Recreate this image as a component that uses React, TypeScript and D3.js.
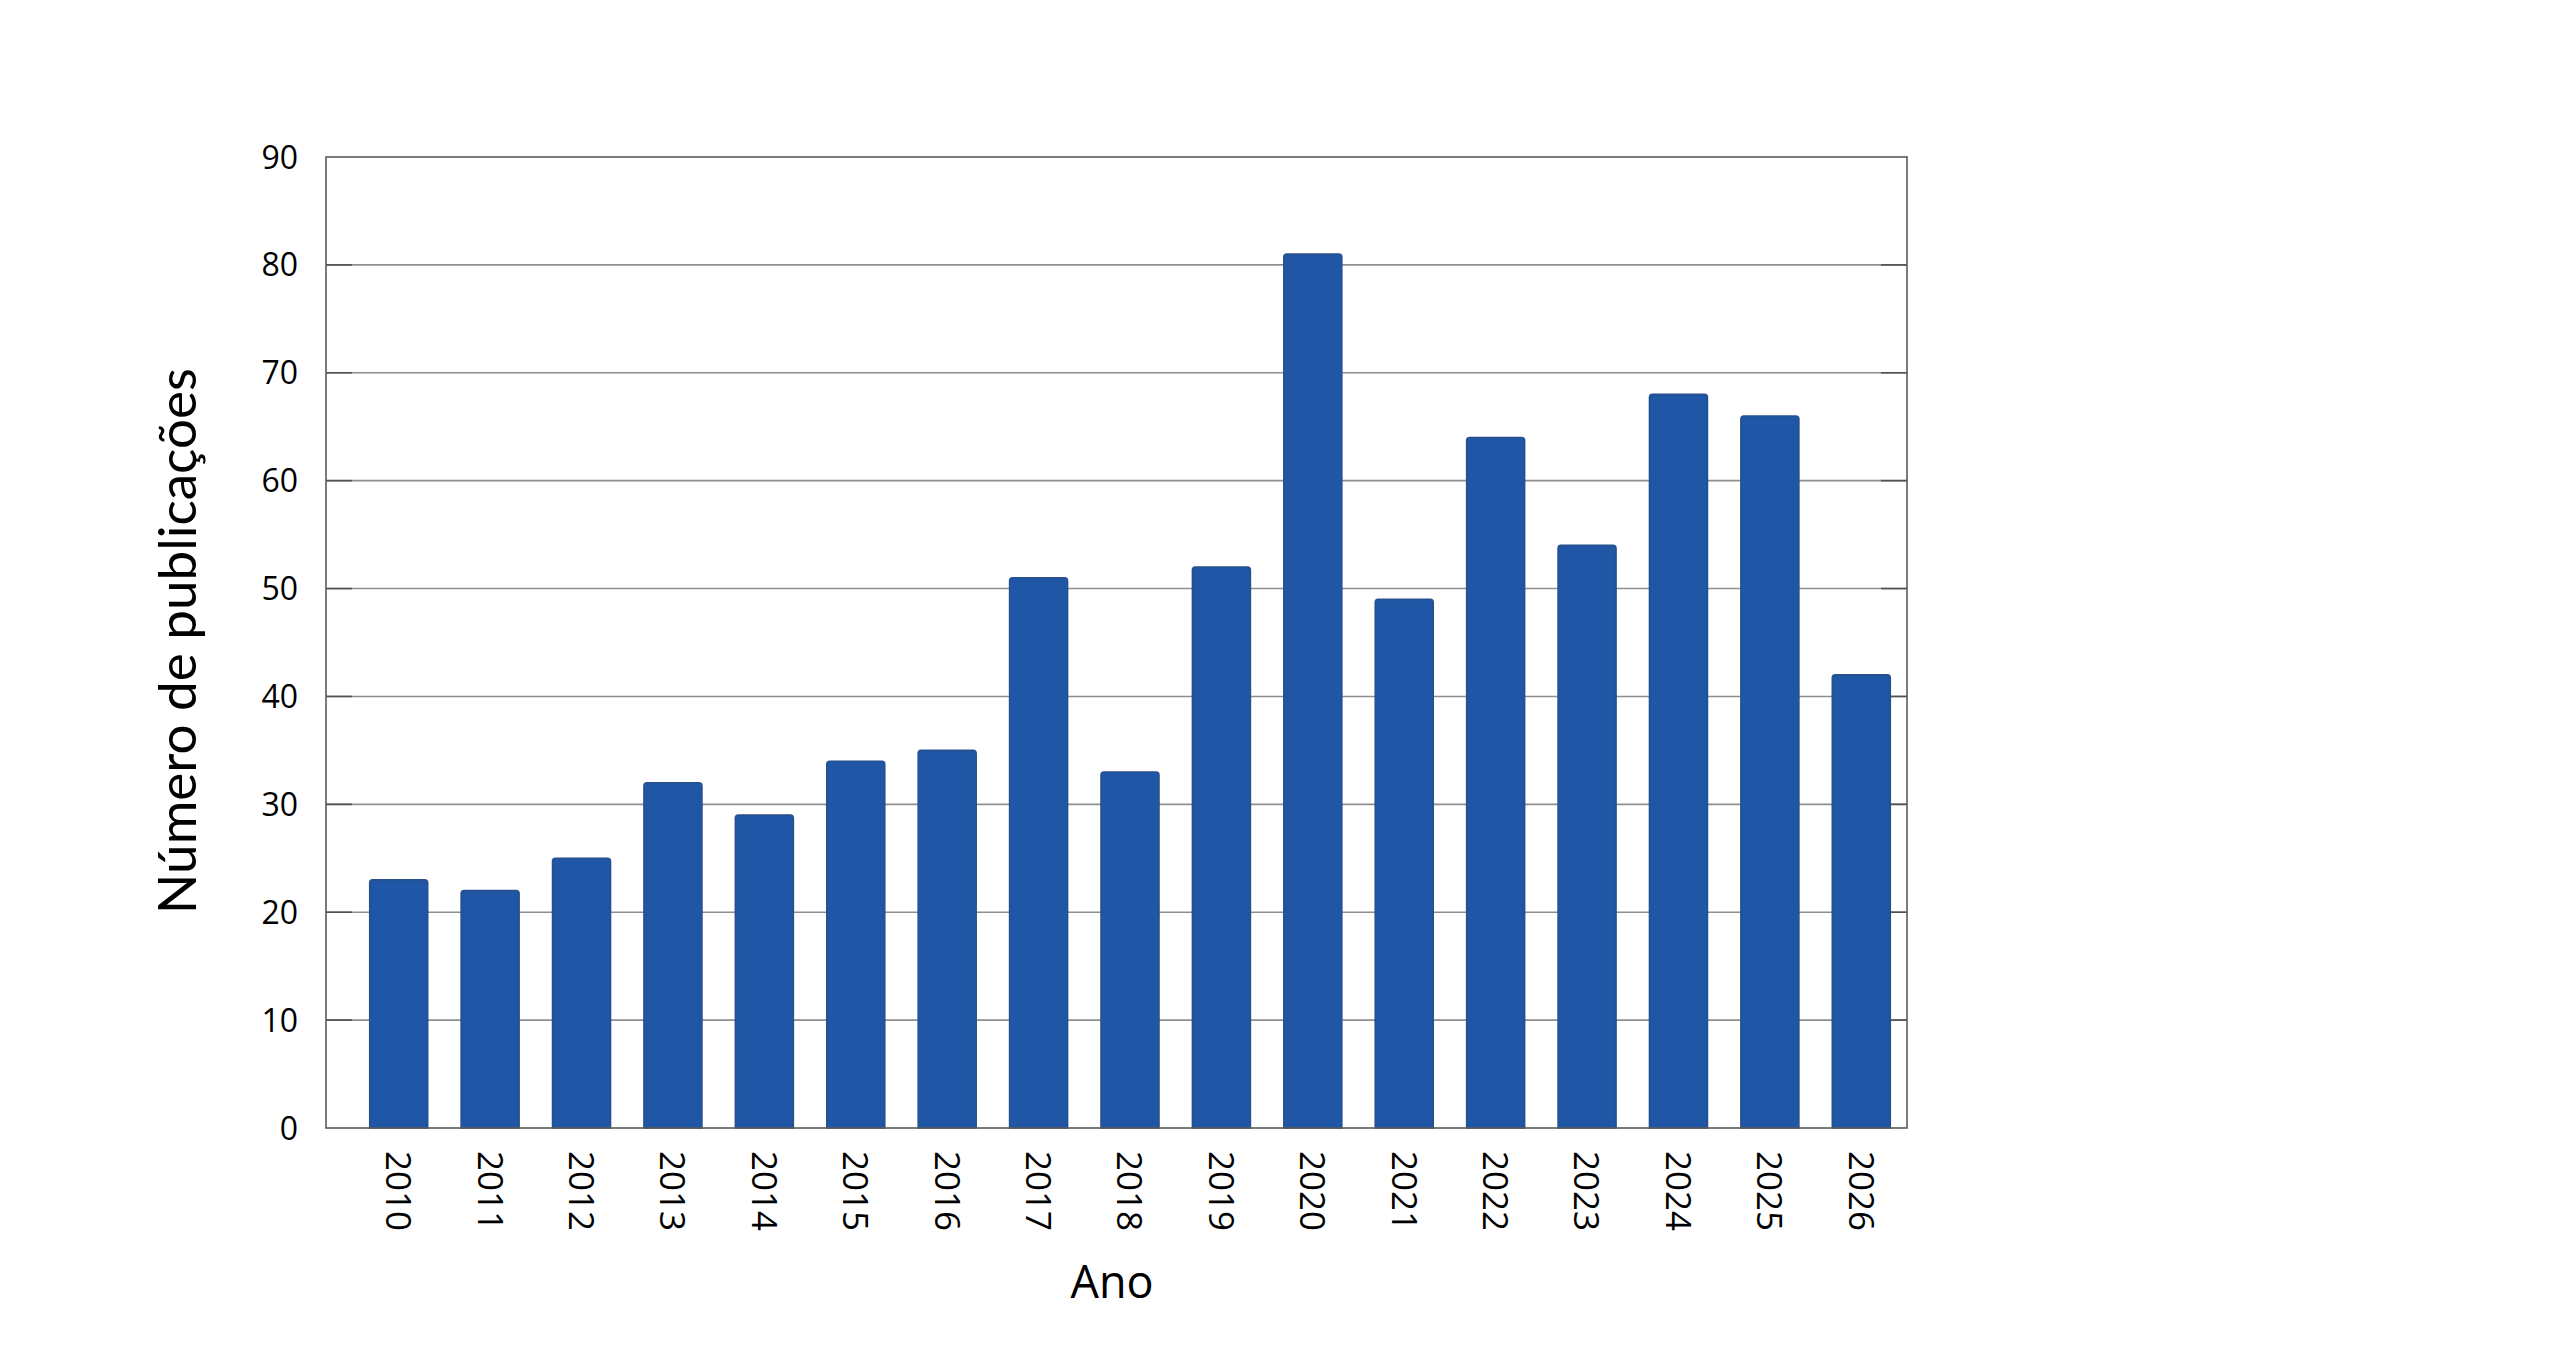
import React from "react";
import * as d3 from "d3";

const years = ["2010","2011","2012","2013","2014","2015","2016","2017","2018","2019","2020","2021","2022","2023","2024","2025","2026"];
const publications = [23, 22, 25, 32, 29, 34, 35, 51, 33, 52, 81, 49, 64, 54, 68, 66, 42];
const yTicks = [0, 10, 20, 30, 40, 50, 60, 70, 80, 90];
const yTitle = "Número de publicações";
const xTitle = "Ano";

const W = 2560;
const H = 1352;
const frameLeft = 326;
const frameRight = 1907;
const frameTop = 157;
const frameBottom = 1128;

export default function App() {
  const x = d3.scaleBand<string>().domain(years).range([353, frameRight]).paddingInner(0.366).paddingOuter(0.183);
  const y = d3.scaleLinear().domain([0, 90]).range([frameBottom, frameTop]);
  const bw = x.bandwidth();
  const barPath = (x0: number, y0: number, w: number, h: number) => {
    const r = 3;
    const p = d3.path();
    p.moveTo(x0, y0 + h);
    p.lineTo(x0, y0 + r);
    p.quadraticCurveTo(x0, y0, x0 + r, y0);
    p.lineTo(x0 + w - r, y0);
    p.quadraticCurveTo(x0 + w, y0, x0 + w, y0 + r);
    p.lineTo(x0 + w, y0 + h);
    p.closePath();
    return p.toString();
  };
  return (
    <svg width={W} height={H} style={{ position: "absolute", left: 0, top: 0, background: "#fff" }}>
      {yTicks.filter((t) => t > 0 && t < 90).map((t) => (
        <g key={"g" + t}>
          <line x1={frameLeft} x2={frameRight} y1={y(t)} y2={y(t)} stroke="#8e8e8e" strokeWidth={1.6} />
          <line x1={frameLeft} x2={frameLeft + 26} y1={y(t)} y2={y(t)} stroke="#505050" strokeWidth={1.6} />
          <line x1={frameRight - 26} x2={frameRight} y1={y(t)} y2={y(t)} stroke="#505050" strokeWidth={1.6} />
        </g>
      ))}
      {years.map((yr, i) => {
        const v = publications[i];
        const x0 = x(yr) as number;
        const y0 = y(v);
        return (
          <path key={yr} d={barPath(x0, y0, bw, frameBottom - y0)} fill="#1f56a6" stroke="#27508f" strokeWidth={1.6} />
        );
      })}
      <rect x={frameLeft} y={frameTop} width={frameRight - frameLeft} height={frameBottom - frameTop} fill="none" stroke="#5a5a5a" strokeWidth={1.6} />
      {yTicks.map((t) => (
        <text key={"t" + t} x={298} y={y(t)} dy="0.36em" textAnchor="end" fontFamily="'Open Sans'" fontSize={32} fill="#000">{t}</text>
      ))}
      {years.map((yr) => {
        const cx = (x(yr) as number) + bw / 2;
        return (
          <text key={"x" + yr} transform={`translate(${cx},1151) rotate(90)`} dy="0.36em" textAnchor="start" fontFamily="'Open Sans'" fontSize={35} fill="#000">{yr}</text>
        );
      })}
      <text x={1112} y={1298} textAnchor="middle" fontFamily="'Open Sans'" fontSize={45} fill="#000">{xTitle}</text>
      <text transform={`translate(196,641) rotate(-90)`} textAnchor="middle" fontFamily="Lato" fontSize={53} fill="#000">{yTitle}</text>
    </svg>
  );
}
